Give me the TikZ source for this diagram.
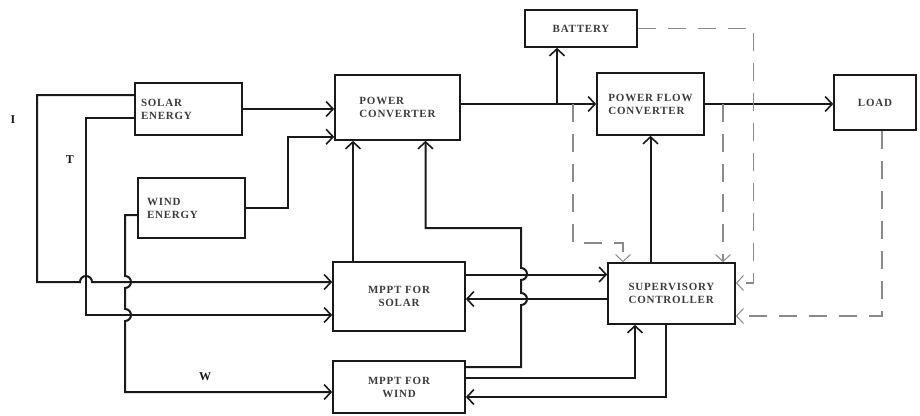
\documentclass[tikz,border=0pt]{standalone}
\usepackage{fontspec}
\setmainfont{Liberation Serif}
\usepackage{tikz}
\usetikzlibrary{
  positioning, arrows.meta, calc
}
\definecolor{inkP}{HTML}{1A1A1A}
\definecolor{inkD}{HTML}{8A8A8A}
\newfontfamily\blkfont[LetterSpace=7]{Liberation Serif}
\tikzset{
  blk/.style={draw=inkP, line width=1.6pt, align=left, inner sep=0pt,
    font=\blkfont\bfseries\fontsize{11}{13}\selectfont, text=inkP!85},
  conn/.style={draw=inkP, line width=2pt,
    -{Straight Barb[length=7pt, width=15pt, line width=1.6pt]}},
  dsh/.style={draw=inkD, line width=1.1pt, dash pattern=on 18pt off 12pt,
    -{Straight Barb[length=7pt, width=15pt, line width=1pt]}},
  sig/.style={font=\bfseries\fontsize{12}{14}\selectfont, text=inkP}
}
\begin{document}
\begin{tikzpicture}[x=1pt, y=-1pt]
\useasboundingbox (0,0) rectangle (920,415);
% blocks
\node[blk, minimum width=107pt, minimum height=52pt, text width=95pt, inner xsep=6pt] (solar) at (188.5,109) {SOLAR\\ENERGY};
\node[blk, minimum width=107pt, minimum height=60pt, text width=89pt, inner xsep=9pt] (wind) at (191.5,208) {WIND\\ENERGY};
\node[blk, minimum width=125pt, minimum height=65pt] (pc) at (397.5,107.5) {POWER\\CONVERTER};
\node[blk, minimum width=112pt, minimum height=37pt] (bat) at (581,28.5) {BATTERY};
\node[blk, minimum width=107pt, minimum height=62pt] (pfc) at (650.5,104) {POWER FLOW\\CONVERTER};
\node[blk, minimum width=82pt, minimum height=55pt] (load) at (875,102.5) {LOAD};
\node[blk, minimum width=132pt, minimum height=69pt, align=center, text width=110pt, inner xsep=3pt] (mps) at (399,296.5) {MPPT FOR\\SOLAR};
\node[blk, minimum width=132pt, minimum height=52pt, align=center, text width=110pt, inner xsep=3pt] (mpw) at (399,387) {MPPT FOR\\WIND};
\node[blk, minimum width=127pt, minimum height=61pt] (sup) at (671.5,293.5) {SUPERVISORY\\CONTROLLER};

% signal names
\node[sig] (lblI) at (13,120) {I};
\node[sig] (lblT) at (70,160) {T};
\node[sig] (lblW) at (205,377) {W};

% power path
\coordinate (jn) at (557,104);
\coordinate (tapA) at (573,104);
\coordinate (tapB) at (723,104);
\draw[conn] (solar.east) -- (solar.east -| pc.west);
\draw[conn] (wind.east) -- ++(42,0) |- ([yshift=4pt]pc.south west);
\draw[conn] (pc.east |- pfc.west) -- (pfc.west);
\draw[conn] (jn) -- (jn |- bat.south);
\draw[conn] (pfc.east) -- (pfc.east -| load.west);

% control loops
\draw[conn] (pfc.south |- sup.north) -- (pfc.south);
\draw[conn] ([xshift=-46pt]mps.north) -- ([xshift=-46pt]mps.north |- pc.south);
\draw[conn] ([yshift=20pt]mpw.east) -- (521,367) -- (521,305) arc (-90:90:6pt)
  -- (521,280) arc (-90:90:6pt) -- (521,228) -| ([xshift=28pt]pc.south);
\draw[conn] ([yshift=22pt]mps.east) -- ([yshift=22pt]mps.east -| sup.west);
\draw[conn] ([yshift=-2.5pt]mps.east -| sup.west) -- ([yshift=-2.5pt]mps.east);
\draw[conn] ([yshift=9pt]mpw.east) -| ([xshift=-36.5pt]sup.south);
\draw[conn] ([xshift=-5.5pt]sup.south) |- ([yshift=-10pt]mpw.east);

% sensed inputs
\draw[conn] ([yshift=14pt]solar.west) -- (37,95) -- (37,282) -- (80,282)
  arc (180:0:6pt) -- ([yshift=14.5pt]mps.west);
\draw[conn] ([yshift=-9pt]solar.west) -- (86,118) -- ([yshift=-18.5pt]mps.west -| 86,0)
  -- ([yshift=-18.5pt]mps.west);
\draw[conn] ([yshift=-7pt]wind.west) -- (125,215) -- (125,276) arc (90:-90:6pt)
  -- (125,309) arc (90:-90:6pt) -- (125,392) -- ([yshift=-5pt]mpw.west);

% measurement feedback
\draw[dsh] (tapA) -- (573,243) -| ([xshift=-48.5pt]sup.north);
\draw[dsh] (tapB) -- (tapB |- sup.north);
\draw[dsh] (bat.east) -- ++(116,0) |- ([yshift=10.5pt]sup.east);
\draw[dsh] ([xshift=7pt]load.south) |- ([yshift=-22.5pt]sup.east);
\end{tikzpicture}
\end{document}
